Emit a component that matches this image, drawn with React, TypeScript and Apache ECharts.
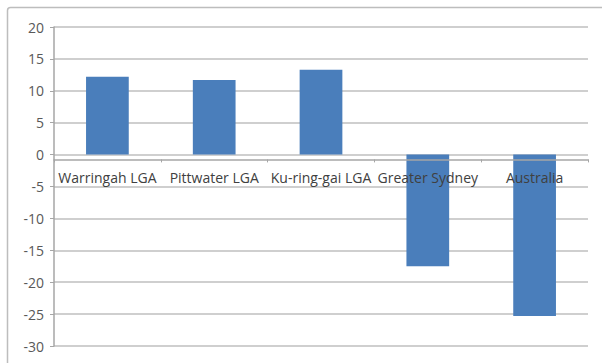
import React, { useEffect, useRef } from "react";
import * as echarts from "echarts";

const categories = ["Warringah LGA", "Pittwater LGA", "Ku-ring-gai LGA", "Greater Sydney", "Australia"];
const values = [12.2, 11.7, 13.3, -17.5, -25.3];
const yMin = -30;
const yMax = 20;
const yStep = 5;

export default function App() {
  const ref = useRef<HTMLDivElement>(null);

  useEffect(() => {
    const chart = echarts.init(ref.current!, null, { renderer: "svg" });
    const xAxisBase = {
      type: "category",
      data: categories,
      z: 5,
      axisLine: { onZero: false, lineStyle: { color: "#a6a6a6", width: 1.5 } },
      axisTick: { show: true, alignWithLabel: false, length: 3, lineStyle: { color: "#a6a6a6" } },
      axisLabel: {
        color: "#404040",
        fontFamily: "Open Sans",
        fontSize: 14,
        margin: 11,
        interval: 0,
      },
      splitLine: { show: false },
    };
    chart.setOption({
      animation: false,
      backgroundColor: "#ffffff",
      graphic: [
        {
          type: "rect",
          shape: { x: 7.5, y: 7.5, width: 620, height: 380, r: 3 },
          style: { fill: "none", stroke: "#bdbdbd", lineWidth: 1.5 },
          silent: true,
        },
      ],
      grid: { left: 54, right: 14, top: 27, bottom: 17, containLabel: false },
      xAxis: xAxisBase,
      yAxis: {
        type: "value",
        min: yMin,
        max: yMax,
        interval: yStep,
        axisLine: { show: true, lineStyle: { color: "#a6a6a6", width: 1.5 } },
        axisTick: { show: true, length: 4, lineStyle: { color: "#a6a6a6" } },
        axisLabel: {
          color: "#595959",
          fontFamily: "Open Sans",
          fontSize: 14,
          margin: 10,
        },
        splitLine: { show: true, lineStyle: { color: "#bfbfbf", width: 1.5 } },
      },
      series: [
        {
          type: "bar",
          data: values,
          barWidth: "40%",
          itemStyle: { color: "#4a7ebb" },
        },
      ],
    });
    // Lift the category axis (line, ticks and labels) up to the zero value.
    const zeroY = chart.convertToPixel({ yAxisIndex: 0 }, 0) as number;
    const minY = chart.convertToPixel({ yAxisIndex: 0 }, yMin) as number;
    chart.setOption({ xAxis: { ...xAxisBase, offset: zeroY - minY } });
    return () => chart.dispose();
  }, []);

  return (
    <div
      ref={ref}
      style={{ position: "fixed", left: 0, top: 0, width: 602, height: 363 }}
    />
  );
}
